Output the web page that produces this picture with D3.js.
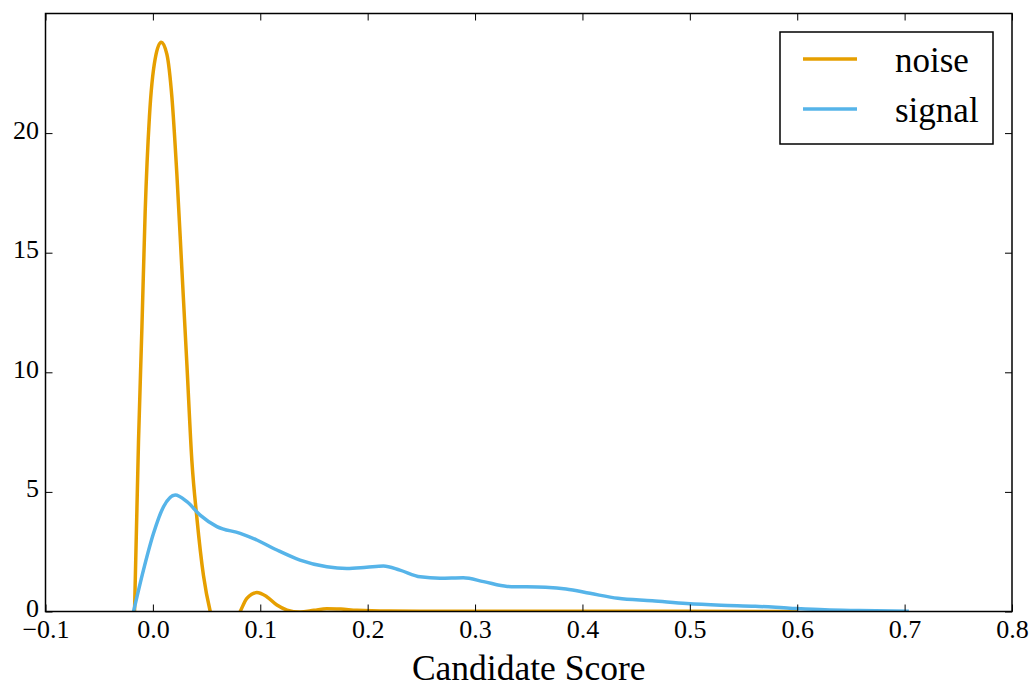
<!DOCTYPE html>
<html>
<head>
<meta charset="utf-8">
<script src="https://cdn.jsdelivr.net/npm/d3@7"></script>
<style>
  html, body { margin: 0; padding: 0; background: #fff; }
  svg { display: block; }
  text { font-family: "Liberation Serif", "Times New Roman", serif; fill: #000; }
</style>
</head>
<body>
<svg id="chart" width="1034" height="685"></svg>
<script>
// Density curves of candidate scores for the two classes
const noiseX = [-0.0171, -0.0134, -0.0102, -0.0072, -0.0032, 0.0021, 0.0077, 0.013, 0.0177, 0.0223,
  0.027, 0.0317, 0.0363, 0.041, 0.0471, 0.0534, 0.066, 0.0813, 0.0875, 0.0968, 0.106, 0.1155,
  0.125, 0.137, 0.15, 0.162, 0.175, 0.19, 0.22, 0.3, 0.4, 0.5, 0.6];
const noiseY = [0, 7.1, 11.9, 16.7, 20.7, 23.1, 23.8, 23.3, 21.5, 18.3,
  14.3, 10.3, 6.3, 3.9, 1.5, 0, -1.2, 0, 0.55, 0.79, 0.62, 0.27,
  0.06, -0.02, 0.05, 0.12, 0.1, 0.05, 0.02, 0.01, 0.01, 0.01, 0.0];

const signalX = [-0.018, -0.0088, 0.0006, 0.0099, 0.0208, 0.0317, 0.044, 0.0596, 0.0813, 0.0968,
  0.1155, 0.137, 0.162, 0.1806, 0.199, 0.2147, 0.230, 0.249, 0.2675, 0.289, 0.308, 0.330,
  0.3657, 0.3847, 0.407, 0.433, 0.465, 0.497, 0.529, 0.561, 0.593, 0.6256, 0.6577, 0.704];
const signalY = [0, 1.73, 3.27, 4.38, 4.87, 4.59, 4.03, 3.55, 3.27, 2.99,
  2.57, 2.15, 1.87, 1.80, 1.85, 1.90, 1.73, 1.45, 1.39, 1.41, 1.25, 1.05,
  1.01, 0.94, 0.76, 0.55, 0.45, 0.33, 0.26, 0.22, 0.14, 0.07, 0.04, 0.01];

const seriesNames = ["noise", "signal"];
const seriesColors = ["#E69F00", "#56B4E9"];

const xTicks = [-0.1, 0.0, 0.1, 0.2, 0.3, 0.4, 0.5, 0.6, 0.7, 0.8];
const xTickLabels = ["\u22120.1", "0.0", "0.1", "0.2", "0.3", "0.4", "0.5", "0.6", "0.7", "0.8"];
const yTicks = [0, 5, 10, 15, 20];
const yTickLabels = ["0", "5", "10", "15", "20"];
const xLabel = "Candidate Score";

const margin = { left: 45.5, right: 1034 - 1012, top: 13.5, bottom: 685 - 611.5 };
const W = 1034, H = 685;
const iw = W - margin.left - margin.right;
const ih = H - margin.top - margin.bottom;

const svg = d3.select("#chart");
const g = svg.append("g").attr("transform", `translate(${margin.left},${margin.top})`);

const x = d3.scaleLinear().domain([-0.1, 0.8]).range([0, iw]);
const y = d3.scaleLinear().domain([0, 25]).range([ih, 0]);

g.append("clipPath").attr("id", "plotClip")
  .append("rect").attr("x", 0).attr("y", 0).attr("width", iw).attr("height", ih);

const line = d3.line()
  .x(d => x(d[0]))
  .y(d => y(d[1]))
  .curve(d3.curveMonotoneX);

const series = [
  d3.zip(noiseX, noiseY),
  d3.zip(signalX, signalY)
];

const plot = g.append("g").attr("clip-path", "url(#plotClip)");
series.forEach((pts, i) => {
  plot.append("path")
    .datum(pts)
    .attr("fill", "none")
    .attr("stroke", seriesColors[i])
    .attr("stroke-width", 3.5)
    .attr("stroke-linejoin", "round")
    .attr("d", line);
});

// Inward ticks on all four sides
const tickLen = 7;
const xAxisBottom = d3.axisBottom(x).tickValues(xTicks).tickSizeInner(-tickLen).tickSizeOuter(0)
  .tickFormat((d, i) => xTickLabels[i]).tickPadding(0);
const gxb = g.append("g").attr("transform", `translate(0,${ih})`).call(xAxisBottom);
gxb.select(".domain").remove();
gxb.selectAll(".tick line").attr("stroke", "#000").attr("stroke-width", 1);
gxb.selectAll(".tick text")
  .attr("y", 638 - 611.5).attr("dy", null)
  .attr("font-size", 26).attr("font-family", "Liberation Serif").attr("fill", "#000");

const xAxisTop = d3.axisTop(x).tickValues(xTicks).tickSizeInner(-tickLen).tickSizeOuter(0).tickFormat("");
const gxt = g.append("g").call(xAxisTop);
gxt.select(".domain").remove();
gxt.selectAll(".tick line").attr("stroke", "#000").attr("stroke-width", 1);

const yAxisLeft = d3.axisLeft(y).tickValues(yTicks).tickSizeInner(-tickLen).tickSizeOuter(0)
  .tickFormat((d, i) => yTickLabels[i]);
const gyl = g.append("g").call(yAxisLeft);
gyl.select(".domain").remove();
gyl.selectAll(".tick line").attr("stroke", "#000").attr("stroke-width", 1);
gyl.selectAll(".tick text")
  .attr("x", -6.5).attr("dy", null).attr("y", 5)
  .attr("text-anchor", "end")
  .attr("font-size", 26).attr("font-family", "Liberation Serif").attr("fill", "#000");

const yAxisRight = d3.axisRight(y).tickValues(yTicks).tickSizeInner(-tickLen).tickSizeOuter(0).tickFormat("");
const gyr = g.append("g").attr("transform", `translate(${iw},0)`).call(yAxisRight);
gyr.select(".domain").remove();
gyr.selectAll(".tick line").attr("stroke", "#000").attr("stroke-width", 1);

// Frame
g.append("rect")
  .attr("x", 0).attr("y", 0).attr("width", iw).attr("height", ih)
  .attr("fill", "none").attr("stroke", "#000").attr("stroke-width", 1.5);

// Axis label
svg.append("text")
  .attr("x", margin.left + iw / 2).attr("y", 680)
  .attr("text-anchor", "middle")
  .attr("font-size", 35.5)
  .text(xLabel);

// Legend
const legend = svg.append("g").attr("transform", "translate(780,32)");
legend.append("rect")
  .attr("x", 0).attr("y", 0).attr("width", 213).attr("height", 112)
  .attr("fill", "#fff").attr("stroke", "#000").attr("stroke-width", 1.5);
seriesNames.forEach((name, i) => {
  const ly = 27 + i * 50;
  legend.append("line")
    .attr("x1", 23).attr("x2", 77).attr("y1", ly).attr("y2", ly)
    .attr("stroke", seriesColors[i]).attr("stroke-width", 3.5);
  legend.append("text")
    .attr("x", 115).attr("y", ly + 12.5)
    .attr("font-size", 35)
    .text(name);
});
</script>
</body>
</html>
